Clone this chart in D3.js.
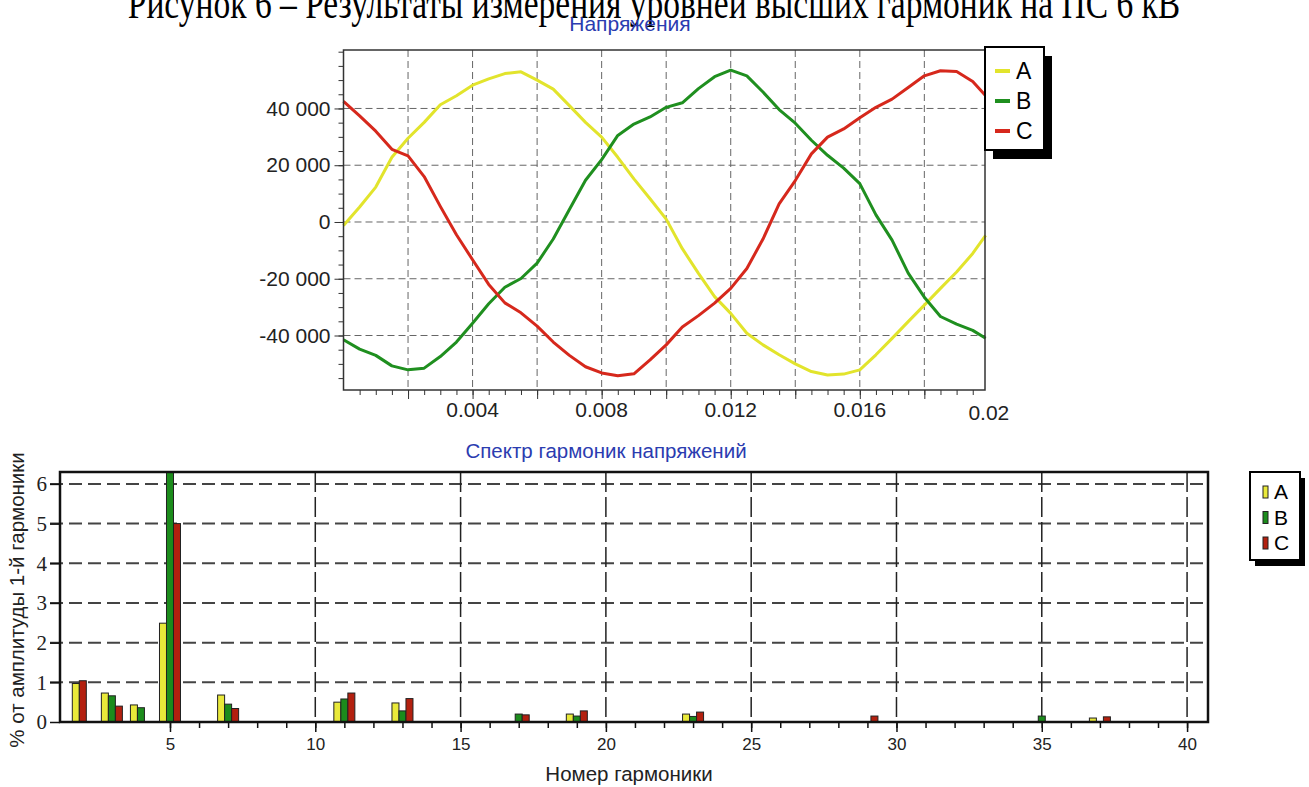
<!DOCTYPE html>
<meta charset="utf-8">
<style>
body { margin: 0; background: #fff; }
svg { display: block; font-family: "Liberation Sans", Arial, sans-serif; }
.grid1 line { stroke: #666; stroke-width: 1; stroke-dasharray: 7,4; }
.axis1 text { font-size: 21px; fill: #222; }
.axis1 line { stroke: #333; }
.wave { fill: none; stroke-width: 3; stroke-linejoin: round; }
.hgrid2 line { stroke: #444; stroke-width: 2; stroke-dasharray: 13,6; }
.vgrid2 line { stroke: #222; stroke-width: 1.5; stroke-dasharray: 20,5; }
.axis2 line { stroke: #111; stroke-width: 1.5; }
.bar { stroke: #222; stroke-width: 1; }
</style>

<script src="https://d3js.org/d3.v7.min.js"></script>
<svg width="1309" height="787"></svg>

<script>

// ---- data: waveforms (top chart) ----
var times = d3.range(0, 40).map(function(i) { return i * 0.0005; }).concat([0.0199]);

var voltA = [-1200, 5300, 12300, 22800, 29500, 35100, 41300, 44500, 48200, 50400,
    52300, 52900, 50000, 46800, 41000, 35100, 29900, 22800, 15200, 8200,
    1000, -9400, -18100, -26300, -32200, -39200, -43300, -46800, -50000, -52700,
    -53900, -53600, -52100, -46800, -41000, -35100, -29300, -23400, -17600, -11100,
    -4700];
var voltB = [-41500, -44800, -47000, -50700, -52100, -51500, -47400, -42300, -35700, -28800,
    -23000, -19900, -14500, -6000, 4400, 14700, 22000, 30500, 34500, 37000,
    40400, 42000, 47000, 51200, 53500, 51500, 45800, 39600, 34800, 28800,
    23500, 19000, 13500, 2500, -6400, -18000, -26500, -33300, -36000, -38200,
    -41000];
var voltC = [42500, 37400, 32000, 25600, 23300, 16000, 5500, -4500, -13300, -22000,
    -28500, -32000, -36700, -42300, -47000, -51000, -53200, -54200, -53500, -48600,
    -43300, -37000, -33000, -28600, -23400, -16400, -6000, 6400, 14600, 24000,
    29900, 32800, 36700, 40400, 43300, 47400, 51500, 53300, 53000, 49500,
    44500];

var yTicksTop = [-40000, -20000, 0, 20000, 40000];
var xLabelsTop = [0.004, 0.008, 0.012, 0.016, 0.02];

// ---- data: harmonic spectrum (bottom chart), % of 1st harmonic ----
var harmonics = [2, 3, 4, 5, 7, 11, 13, 17, 19, 23, 29, 35, 37];
var specA = [0.97, 0.73, 0.43, 2.49, 0.68, 0.50, 0.48, 0, 0.20, 0.20, 0, 0, 0.10];
var specB = [null, 0.66, 0.36, 6.6, 0.45, 0.58, 0.28, 0.20, 0.15, 0.14, 0, 0.15, 0];
var specC = [1.04, 0.40, 0, 5.00, 0.34, 0.73, 0.59, 0.18, 0.28, 0.25, 0.15, 0, 0.13];

var yTicksBottom = [0, 1, 2, 3, 4, 5, 6];
var xLabelsBottom = [5, 10, 15, 20, 25, 30, 35, 40];

var phases = ["A", "B", "C"];
var waveColors = ["#e2e42c", "#1f8f1f", "#d6281c"];
var barColors = ["#e9e93a", "#1c8c1c", "#b3200f"];

var svg = d3.select("svg");

var fmt = d3.formatLocale({decimal: ".", thousands: " ", grouping: [3], currency: ["", ""], minus: "-"}).format(",");

// caption (cut at top edge in the original, squeezed horizontally)
svg.append("text")
    .attr("transform", "translate(654,18) scale(0.745,1)")
    .attr("text-anchor", "middle")
    .style("font-family", "'Liberation Serif', 'Times New Roman', serif")
    .style("font-size", "45px")
    .text("Рисунок 6 – Результаты измерения уровней высших гармоник на ПС 6 кВ");

// ================= top chart =================
var x1 = d3.scaleLinear().domain([0, 0.01988]).range([343.5, 985]);
var y1 = d3.scaleLinear().domain([-59200, 60600]).range([390, 50]);

svg.append("text")
    .attr("x", 630).attr("y", 31)
    .attr("text-anchor", "middle")
    .attr("fill", "#2b3cb0")
    .style("font-size", "21px")
    .text("Напряжения");

var g1 = svg.append("g");

g1.append("g").attr("class", "grid1")
    .selectAll("line")
    .data(d3.range(1, 10).map(function(i) { return i * 0.002; }))
    .enter().append("line")
    .attr("x1", function(d) { return x1(d); }).attr("x2", function(d) { return x1(d); })
    .attr("y1", y1.range()[1]).attr("y2", y1.range()[0]);

g1.append("g").attr("class", "grid1")
    .selectAll("line")
    .data(yTicksTop)
    .enter().append("line")
    .attr("x1", x1.range()[0]).attr("x2", x1.range()[1])
    .attr("y1", function(d) { return y1(d); }).attr("y2", function(d) { return y1(d); });

var waves = [voltA, voltB, voltC];
var line = d3.line()
    .x(function(d, i) { return x1(times[i]); })
    .y(function(d) { return y1(d); });

g1.selectAll(".wave")
    .data(waves)
    .enter().append("path")
    .attr("class", "wave")
    .attr("stroke", function(d, i) { return waveColors[i]; })
    .attr("d", line);

g1.append("rect")
    .attr("x", x1.range()[0]).attr("y", y1.range()[1])
    .attr("width", x1.range()[1] - x1.range()[0])
    .attr("height", y1.range()[0] - y1.range()[1])
    .attr("fill", "none").attr("stroke", "#333").attr("stroke-width", 1.5);

// y axis: major + minor ticks
g1.append("g").attr("class", "axis1")
    .attr("transform", "translate(" + x1.range()[0] + ",0)")
    .call(d3.axisLeft(y1).tickValues(yTicksTop).tickSize(9).tickPadding(4).tickFormat(fmt))
    .call(function(a) { a.select(".domain").remove(); });

g1.append("g").attr("class", "axis1")
    .attr("transform", "translate(" + x1.range()[0] + ",0)")
    .call(d3.axisLeft(y1).tickValues(d3.range(-55000, 60001, 5000)).tickSize(5).tickFormat(""))
    .call(function(a) { a.select(".domain").remove(); });

// x axis: major + minor ticks, labels every 0.004
g1.append("g").attr("class", "axis1")
    .attr("transform", "translate(0," + y1.range()[0] + ")")
    .call(d3.axisBottom(x1).tickValues(d3.range(1, 10).map(function(i) { return i * 0.002; })).tickSize(9).tickFormat(""))
    .call(function(a) { a.select(".domain").remove(); });

g1.append("g").attr("class", "axis1")
    .attr("transform", "translate(0," + y1.range()[0] + ")")
    .call(d3.axisBottom(x1).tickValues(d3.range(1, 40).map(function(i) { return i * 0.0005; })).tickSize(5).tickFormat(""))
    .call(function(a) { a.select(".domain").remove(); });

g1.selectAll(".xlab1")
    .data(xLabelsTop)
    .enter().append("text")
    .attr("class", "xlab1")
    .attr("x", function(d) { return x1(d); })
    .attr("y", function(d, i) { return i == xLabelsTop.length - 1 ? 420 : 417; })
    .attr("text-anchor", "middle")
    .attr("fill", "#222")
    .style("font-size", "21px")
    .text(function(d) { return d; });

// legend top
var lg1 = svg.append("g").attr("transform", "translate(985,47)");
lg1.append("rect").attr("x", 8).attr("y", 9).attr("width", 59).attr("height", 103).attr("fill", "#000");
lg1.append("rect").attr("width", 59).attr("height", 103).attr("fill", "#fff").attr("stroke", "#000").attr("stroke-width", 2);
var it1 = lg1.selectAll(".it").data(phases).enter().append("g")
    .attr("transform", function(d, i) { return "translate(0," + (24 + i * 30) + ")"; });
it1.append("line").attr("x1", 10).attr("x2", 25)
    .attr("stroke", function(d, i) { return waveColors[i]; }).attr("stroke-width", 4);
it1.append("text").attr("x", 31).attr("y", 8).style("font-size", "23px").text(function(d) { return d; });

// ================= bottom chart =================
var x2 = d3.scaleLinear().domain([1.215, 40.72]).range([60, 1208]);
var y2 = d3.scaleLinear().domain([0, 6.3]).range([722, 472]);
var barW = 0.241; // bar width in harmonic units

svg.append("text")
    .attr("x", 606).attr("y", 458)
    .attr("text-anchor", "middle")
    .attr("fill", "#2b3cb0")
    .style("font-size", "20.5px")
    .text("Спектр гармоник напряжений");

var g2 = svg.append("g");

g2.append("clipPath").attr("id", "clip2")
    .append("rect")
    .attr("x", x2.range()[0]).attr("y", y2.range()[1])
    .attr("width", x2.range()[1] - x2.range()[0])
    .attr("height", y2.range()[0] - y2.range()[1]);

g2.append("g").attr("class", "hgrid2")
    .selectAll("line")
    .data(yTicksBottom.slice(1))
    .enter().append("line")
    .attr("x1", x2.range()[0] - 10).attr("x2", x2.range()[1])
    .attr("y1", function(d) { return y2(d); }).attr("y2", function(d) { return y2(d); });

g2.append("g").attr("class", "vgrid2")
    .selectAll("line")
    .data(xLabelsBottom.slice(1))
    .enter().append("line")
    .attr("x1", function(d) { return x2(d); }).attr("x2", function(d) { return x2(d); })
    .attr("y1", y2.range()[1]).attr("y2", y2.range()[0]);

// bars: present (non-null) phases take consecutive slots around the harmonic
var bars = [];
harmonics.forEach(function(h, k) {
    var vals = [specA[k], specB[k], specC[k]];
    var slot = 0;
    vals.forEach(function(v, p) {
        if (v === null) return;
        bars.push({h: h, v: v, p: p, slot: slot});
        slot++;
    });
});

g2.append("g").attr("clip-path", "url(#clip2)")
    .selectAll("rect")
    .data(bars)
    .enter().append("rect")
    .attr("class", "bar")
    .attr("x", function(d) { return x2(d.h + (d.slot - 1.5) * barW); })
    .attr("width", function(d) { return x2(d.h + barW) - x2(d.h); })
    .attr("y", function(d) { return y2(d.v); })
    .attr("height", function(d) { return y2(0) - y2(d.v); })
    .attr("fill", function(d) { return barColors[d.p]; });

g2.append("rect")
    .attr("x", x2.range()[0]).attr("y", y2.range()[1])
    .attr("width", x2.range()[1] - x2.range()[0])
    .attr("height", y2.range()[0] - y2.range()[1])
    .attr("fill", "none").attr("stroke", "#111").attr("stroke-width", 2.5);

// y axis labels (serif in the original)
g2.append("g").attr("class", "axis2")
    .attr("transform", "translate(" + x2.range()[0] + ",0)")
    .call(d3.axisLeft(y2).tickValues(yTicksBottom).tickSize(10).tickPadding(3).tickFormat(d3.format("d")))
    .call(function(a) {
        a.select(".domain").remove();
        a.selectAll("text")
            .style("font-family", "'Liberation Serif', 'Times New Roman', serif")
            .style("font-size", "21px").attr("fill", "#222");
    });

// x axis ticks: every harmonic from 5, longer every 5
g2.append("g").attr("class", "axis2")
    .attr("transform", "translate(0," + y2.range()[0] + ")")
    .call(d3.axisBottom(x2).tickValues(d3.range(5, 41)).tickSize(6).tickFormat(""))
    .call(function(a) { a.select(".domain").remove(); });

g2.append("g").attr("class", "axis2")
    .attr("transform", "translate(0," + y2.range()[0] + ")")
    .call(d3.axisBottom(x2).tickValues(xLabelsBottom).tickSize(10).tickPadding(6).tickFormat(d3.format("d")))
    .call(function(a) {
        a.select(".domain").remove();
        a.selectAll("text").style("font-size", "17px").attr("fill", "#222");
    });

svg.append("text")
    .attr("x", 629).attr("y", 781)
    .attr("text-anchor", "middle")
    .attr("fill", "#222")
    .style("font-size", "20.5px")
    .text("Номер гармоники");

svg.append("text")
    .attr("transform", "translate(24,600) rotate(-90)")
    .attr("text-anchor", "middle")
    .attr("fill", "#222")
    .style("font-size", "20.5px")
    .text("% от амплитуды 1-й гармоники");

// legend bottom
var lg2 = svg.append("g").attr("transform", "translate(1250,472)");
lg2.append("rect").attr("x", 5).attr("y", 6).attr("width", 50).attr("height", 88).attr("fill", "#000");
lg2.append("rect").attr("width", 50).attr("height", 88).attr("fill", "#fff").attr("stroke", "#000").attr("stroke-width", 2);
var it2 = lg2.selectAll(".it").data(phases).enter().append("g")
    .attr("transform", function(d, i) { return "translate(0," + (20 + i * 25.5) + ")"; });
it2.append("rect").attr("x", 13).attr("y", -6).attr("width", 5).attr("height", 12)
    .attr("fill", function(d, i) { return barColors[i]; }).attr("stroke", "#222").attr("stroke-width", 1);
it2.append("text").attr("x", 24).attr("y", 7).style("font-size", "21px").text(function(d) { return d; });

</script>
